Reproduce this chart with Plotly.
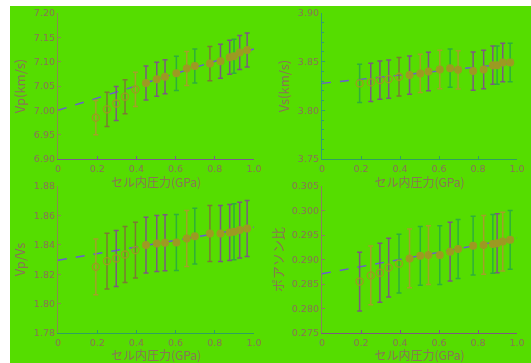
import plotly.graph_objects as go

# ---------------- data ----------------
pressure = [0.193, 0.250, 0.297, 0.342, 0.395, 0.449, 0.504, 0.546, 0.604,
            0.657, 0.698, 0.775, 0.829, 0.876, 0.898, 0.927, 0.965]
n_open = 5  # first points drawn as open circles

vp = [6.985, 7.002, 7.014, 7.028, 7.043, 7.056, 7.064, 7.069, 7.076,
      7.086, 7.091, 7.096, 7.101, 7.109, 7.111, 7.119, 7.124]
vp_err = 0.035
vp_fit_x = [0.0, 1.0]
vp_fit_y = [7.000, 7.126]

vs = [3.8277, 3.8287, 3.8311, 3.8321, 3.8345, 3.8362, 3.8379, 3.8399, 3.8420,
      3.8433, 3.8416, 3.8403, 3.8420, 3.8464, 3.8464, 3.8491, 3.8491]
vs_err = 0.0197
vs_fit_x = [0.0, 1.0]
vs_fit_y = [3.8277, 3.8488]

vpvs = [1.8250, 1.8289, 1.8307, 1.8334, 1.8364, 1.8398, 1.8409, 1.8414, 1.8416,
        1.8443, 1.8459, 1.8477, 1.8477, 1.8484, 1.8489, 1.8500, 1.8511]
vpvs_err = 0.019
vpvs_fit_x = [0.0, 1.0]
vpvs_fit_y = [1.8295, 1.8520]

poisson = [0.2855, 0.28675, 0.2873, 0.28834, 0.28917, 0.29021, 0.29076, 0.2909, 0.2909,
           0.29159, 0.29214, 0.29283, 0.29297, 0.29318, 0.29332, 0.29366, 0.29401]
poisson_err = 0.006
poisson_fit_x = [0.0, 1.0]
poisson_fit_y = [0.2871, 0.2944]

x_ticks = [0, 0.2, 0.4, 0.6, 0.8, 1.0]
x_tick_text = ["0", "0.2", "0.4", "0.6", "0.8", "1.0"]
x_title = "セル内圧力(GPa)"

# ---------------- styles ----------------
BG = "#55dd00"
TXT = "#8a7458"
MARK = "#9c9a22"
FIT = "#6a5ad6"
ERR_COLORS = ["#7d5a80", "#7b7a35", "#2fae3c", "#a3a02a"]
FONT = "Noto Sans CJK JP, DejaVu Sans, sans-serif"
TICKFONT = "DejaVu Sans, sans-serif"

panels = [
    dict(y=vp, err=vp_err, fx=vp_fit_x, fy=vp_fit_y, title="Vp(km/s)",
         rng=[6.90, 7.20], dtick=0.05, fmt=".2f", minor=None,
         err_idx=[3, 1, 0, 1, 3, 0, 0, 0, 2, 3, 2, 1, 0, 0, 2, 0, 0],
         xline="#7d5a90", yline="#8a8a50"),
    dict(y=vs, err=vs_err, fx=vs_fit_x, fy=vs_fit_y, title="Vs(km/s)",
         rng=[3.75, 3.90], dtick=0.05, fmt=".2f", minor=0.01,
         err_idx=[2, 0, 0, 0, 1, 0, 3, 0, 3, 2, 3, 0, 0, 0, 2, 0, 2],
         xline="#2fa060", yline="#2fa070"),
    dict(y=vpvs, err=vpvs_err, fx=vpvs_fit_x, fy=vpvs_fit_y, title="Vp/Vs",
         rng=[1.78, 1.88], dtick=0.02, fmt=".2f", minor=None,
         err_idx=[3, 1, 0, 1, 1, 0, 0, 0, 2, 3, 2, 1, 0, 0, 2, 0, 0],
         xline="#2fa060", yline="#8a8a50"),
    dict(y=poisson, err=poisson_err, fx=poisson_fit_x, fy=poisson_fit_y, title="ポアソン比",
         rng=[0.275, 0.305], dtick=0.005, fmt=".3f", minor=None,
         err_idx=[0, 3, 0, 0, 2, 3, 2, 3, 2, 0, 2, 2, 3, 2, 0, 3, 2],
         xline="#7d5a80", yline="#8a8060"),
]

W, H = 531, 363
xdoms = [(58 / W, 254 / W), (322 / W, 517 / W)]
ydoms = [((H - 159) / H, (H - 13) / H), ((H - 333) / H, (H - 186) / H)]

fig = go.Figure()

for i, p in enumerate(panels):
    r, c = divmod(i, 2)
    xa = "x" if i == 0 else f"x{i+1}"
    ya = "y" if i == 0 else f"y{i+1}"
    # fit line
    fig.add_trace(go.Scatter(x=p["fx"], y=p["fy"], mode="lines",
                             line=dict(color=FIT, width=1.4, dash="dash"),
                             xaxis=xa, yaxis=ya, showlegend=False, hoverinfo="skip"))
    # error bars grouped by colour
    for ci, col in enumerate(ERR_COLORS):
        idx = [k for k, e in enumerate(p["err_idx"]) if e == ci]
        if not idx:
            continue
        fig.add_trace(go.Scatter(
            x=[pressure[k] for k in idx], y=[p["y"][k] for k in idx],
            mode="markers", marker=dict(size=1, opacity=0),
            error_y=dict(type="constant", value=p["err"], color=col,
                         thickness=1.5, width=2.5),
            xaxis=xa, yaxis=ya, showlegend=False, hoverinfo="skip"))
    # open markers
    fig.add_trace(go.Scatter(x=pressure[:n_open], y=p["y"][:n_open], mode="markers",
                             marker=dict(symbol="circle-open", size=7, color=MARK,
                                         line=dict(width=1.3, color=MARK)),
                             xaxis=xa, yaxis=ya, showlegend=False))
    # filled markers
    fig.add_trace(go.Scatter(x=pressure[n_open:], y=p["y"][n_open:], mode="markers",
                             marker=dict(symbol="circle", size=8, color=MARK),
                             xaxis=xa, yaxis=ya, showlegend=False))

    xkey = "xaxis" if i == 0 else f"xaxis{i+1}"
    ykey = "yaxis" if i == 0 else f"yaxis{i+1}"
    fig.update_layout(**{
        xkey: dict(domain=list(xdoms[c]), anchor=ya, range=[0, 1.0],
                   tickvals=x_ticks, ticktext=x_tick_text, automargin=False,
                   ticks="inside", ticklen=3, tickcolor=p["xline"],
                   showline=True, linecolor=p["xline"], linewidth=1.2,
                   showgrid=False, zeroline=False,
                   tickfont=dict(size=9.5, color=TXT, family=TICKFONT),
                   title=dict(text=x_title, font=dict(size=12, color=TXT, family=FONT),
                              standoff=3)),
        ykey: dict(domain=list(ydoms[r]), anchor=xa, range=p["rng"], automargin=False,
                   dtick=p["dtick"], tick0=p["rng"][0], tickformat=p["fmt"],
                   ticks="inside", ticklen=3, tickcolor=p["yline"],
                   showline=True, linecolor=p["yline"], linewidth=1.2,
                   showgrid=False, zeroline=False,
                   minor=dict(dtick=p["minor"], ticks="inside", ticklen=2,
                              tickcolor=p["yline"]) if p["minor"] else None,
                   tickfont=dict(size=9.5, color=TXT, family=TICKFONT),
                   title=dict(text=p["title"], font=dict(size=13, color=TXT, family=FONT),
                              standoff=5)),
    })

fig.update_layout(
    width=W, height=H,
    margin=dict(l=0, r=0, t=0, b=0, autoexpand=False),
    paper_bgcolor="white",
    plot_bgcolor="rgba(0,0,0,0)",
    font=dict(family=FONT, color=TXT),
    shapes=[dict(type="rect", xref="paper", yref="paper",
                 x0=10 / W, x1=1, y0=0, y1=(H - 6) / H,
                 fillcolor=BG, line=dict(width=0), layer="below")],
)

fig.write_html(
    "out.html",
    config={"displayModeBar": False},
    post_script="document.body.style.margin='0';document.body.style.padding='0';"
                "document.body.style.overflow='hidden';"
                "document.documentElement.style.overflow='hidden';",
)
